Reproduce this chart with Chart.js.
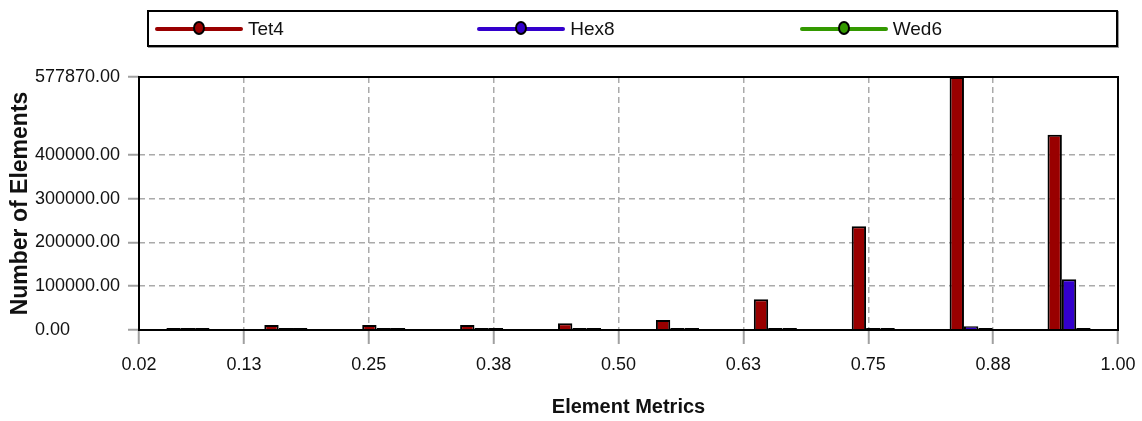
<!DOCTYPE html>
<html>
<head>
<meta charset="utf-8">
<script src="https://cdn.jsdelivr.net/npm/chart.js@4.4.1/dist/chart.umd.min.js"></script>
<style>
html, body { margin:0; padding:0; background:#fff; }
#wrap { position:relative; width:1142px; height:421px; }
#chart { position:absolute; left:0; top:0; }
#legend {
    position:absolute; left:147px; top:10px; width:967px; height:33px;
    border:2px solid #000; box-shadow:1px 1px 0 #999;
    display:flex; font-family:"Liberation Sans", Arial, sans-serif;
    font-size:19px; color:#111;
}
.item { flex:1; display:flex; align-items:center; padding-left:6px; }
.swatch { position:relative; width:88px; height:4px; border-radius:2px; }
.swatch .dot { position:absolute; left:38px; top:-6px; width:8px; height:10px; border:2px solid #000; border-radius:50%; }
.label { margin-left:5px; }
</style>
</head>
<body>
<div id="wrap">
    <canvas id="chart" width="1142" height="421"></canvas>
    <div id="legend"></div>
</div>
<script>
// bins of element quality, one group of bars per bin
const binCenters = [0.069, 0.167, 0.265, 0.363, 0.461, 0.559, 0.657, 0.755, 0.853, 0.951];
const tet4 = [1200, 11500, 11500, 11500, 15500, 23000, 70000, 237000, 577870, 446000];
const hex8 = [300, 300, 300, 300, 300, 300, 300, 300, 8500, 116000];
const wed6 = [300, 300, 300, 300, 300, 300, 300, 300, 300, 300];

const seriesNames = ['Tet4', 'Hex8', 'Wed6'];
const seriesColors = ['#990000', '#3300cc', '#339900'];

const xTicks = [0.02, 0.125, 0.25, 0.375, 0.5, 0.625, 0.75, 0.875, 1.0];
const yTicks = [0, 100000, 200000, 300000, 400000, 577870];

const FONT = "'Liberation Sans', Arial, sans-serif";

function toPoints(values) {
    return values.map((v, i) => ({ x: binCenters[i], y: v }));
}

// html legend, one third of the box for each series
var legend = document.getElementById('legend');
seriesNames.forEach(function(name, i) {
    var item = document.createElement('div');
    item.className = 'item';
    item.innerHTML = '<div class="swatch" style="background:' + seriesColors[i] + '">' +
        '<div class="dot" style="background:' + seriesColors[i] + '"></div></div>' +
        '<span class="label">' + name + '</span>';
    legend.appendChild(item);
});

const plotBox = {
    id: 'plotBox',
    afterDraw(chart) {
        const a = chart.chartArea;
        const ctx = chart.ctx;
        ctx.save();
        ctx.strokeStyle = '#000';
        ctx.lineWidth = 2;
        ctx.strokeRect(a.left, a.top, a.right - a.left, a.bottom - a.top);
        ctx.restore();
    }
};

const allSeries = [tet4, hex8, wed6];

new Chart(document.getElementById('chart').getContext('2d'), {
    type: 'bar',
    data: {
        datasets: allSeries.map((values, i) => ({
            label: seriesNames[i],
            data: toPoints(values),
            xAxisID: 'x',
            yAxisID: 'y',
            backgroundColor: seriesColors[i],
            borderColor: '#000',
            borderWidth: 2,
            // the near-empty bins show as a plain black line
            borderSkipped: (c) => (c.raw && c.raw.y < 5000) ? false : 'start',
            minBarLength: 2,
            categoryPercentage: 0.44,
            barPercentage: 1.0
        }))
    },
    options: {
        responsive: false,
        animation: false,
        layout: { padding: { left: 0, right: 24, top: 77, bottom: 0 } },
        plugins: {
            legend: { display: false },
            tooltip: { enabled: false }
        },
        scales: {
            x: {
                type: 'linear',
                min: 0.02,
                max: 1.0,
                offset: false,
                afterBuildTicks: (scale) => { scale.ticks = xTicks.map(v => ({ value: v })); },
                afterFit: (scale) => {
                    scale.height = 91;
                    scale.paddingLeft = 0;
                    scale.paddingRight = 0;
                },
                ticks: {
                    autoSkip: false,
                    maxRotation: 0,
                    padding: 10,
                    color: '#111',
                    font: { family: FONT, size: 18 },
                    callback: (v) => Number(v).toFixed(2)
                },
                grid: {
                    offset: false,
                    color: '#aaaaaa',
                    lineWidth: 1.5,
                    tickLength: 14,
                    tickColor: '#a0a0a0',
                    tickWidth: 2,
                    tickBorderDash: []
                },
                border: { display: false, dash: [6, 4] },
                title: {
                    display: true,
                    text: 'Element Metrics',
                    color: '#111',
                    font: { family: FONT, size: 20, weight: 'bold' },
                    padding: { top: 0, bottom: 2 }
                }
            },
            y: {
                position: 'left',
                weight: 0,
                min: 0,
                max: 577870,
                afterBuildTicks: (scale) => { scale.ticks = yTicks.map(v => ({ value: v })); },
                afterFit: (scale) => { scale.width = 104; },
                ticks: {
                    crossAlign: 'far',
                    padding: 9,
                    color: '#111',
                    font: { family: FONT, size: 18 },
                    callback: (v) => Number(v).toFixed(2)
                },
                grid: {
                    color: '#aaaaaa',
                    lineWidth: 1.5,
                    tickLength: 11,
                    tickColor: '#a0a0a0',
                    tickWidth: 2,
                    tickBorderDash: []
                },
                border: { display: false, dash: [6, 4] }
            },
            // only carries the y title, sits left of the value labels
            yTitle: {
                type: 'linear',
                position: 'left',
                weight: 1,
                afterFit: (scale) => { scale.width = 35; },
                ticks: { display: false },
                grid: { display: false },
                border: { display: false },
                title: {
                    display: true,
                    text: 'Number of Elements',
                    color: '#111',
                    font: { family: FONT, size: 23, weight: 'bold' },
                    padding: { top: 7, bottom: 0 }
                }
            }
        }
    },
    plugins: [plotBox]
});
</script>
</body>
</html>
